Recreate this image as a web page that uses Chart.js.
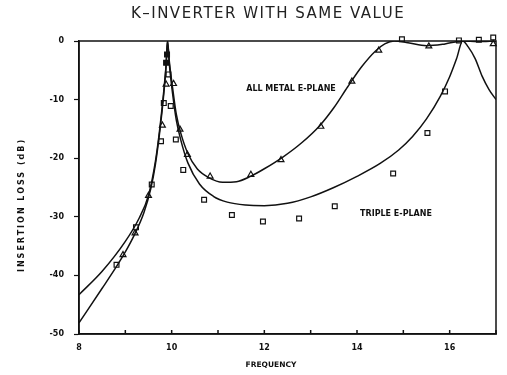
<!DOCTYPE html>
<html lang="en">
<head>
  <meta charset="UTF-8">
  <title>K-Inverter With Same Value</title>
  <style>
    body { margin: 0; background: #fff; }
  </style>
</head>
<body>
  <canvas id="chart" width="507" height="375"></canvas>

  <script src="https://cdn.jsdelivr.net/npm/chart.js@4.4.1/dist/chart.umd.min.js"></script>
  <script>
    // computed curves
    const metalFreq = [8, 8.5, 9, 9.3, 9.5, 9.65, 9.75, 9.83, 9.88, 9.91, 9.95, 10.02, 10.1, 10.2, 10.35, 10.55, 10.8, 11.1, 11.4, 11.7, 12.0, 12.4, 12.8, 13.2, 13.5, 13.8, 14.1, 14.4, 14.6, 14.8, 15.1, 15.5, 15.9, 16.28, 16.6, 17];
    const metalLoss = [-43.3, -39.3, -34.2, -30.2, -26.3, -20.5, -14.5, -8.5, -4, 0, -3.5, -8, -12.5, -15.8, -19.2, -21.8, -23.3, -24.1, -24, -23.1, -21.8, -19.8, -17.4, -14.4, -11.4, -7.8, -4.4, -1.7, -0.5, 0, -0.3, -0.8, -0.5, 0, -0.1, 0];

    const tripleFreq = [8, 8.5, 8.8, 9.0, 9.2, 9.4, 9.55, 9.65, 9.75, 9.83, 9.88, 9.91, 9.95, 10.02, 10.1, 10.2, 10.35, 10.6, 10.9, 11.2, 11.6, 12.0, 12.5, 13.0, 13.5, 14.0, 14.5, 14.9, 15.2, 15.5, 15.8, 16.0, 16.15, 16.28, 16.4, 16.55, 16.7, 16.85, 17];
    const tripleLoss = [-48.1, -42.2, -38.6, -36.0, -33.0, -29.3, -25.2, -21, -15, -9, -4.2, 0, -4, -9, -13.5, -17, -20.8, -24.4, -26.5, -27.5, -28, -28.1, -27.7, -26.6, -25, -23.1, -20.9, -18.6, -16.3, -13.3, -9.4, -6.1, -3.0, 0, -1.0, -3.0, -6.0, -8.3, -10];

    // measured points
    const metalPtFreq = [8.95, 9.21, 9.5, 9.8, 9.88, 10.04, 10.18, 10.34, 10.83, 11.71, 12.36, 13.22, 13.89, 14.47, 15.55, 16.94];
    const metalPtLoss = [-36.5, -32.8, -26.4, -14.4, -7.4, -7.3, -15.1, -19.4, -23.1, -22.8, -20.3, -14.6, -6.9, -1.6, -0.9, -0.5];

    const triplePtFreq = [8.81, 9.23, 9.57, 9.77, 9.83, 9.93, 9.98, 10.09, 10.25, 10.7, 11.3, 11.97, 12.75, 13.52, 14.78, 14.97, 15.52, 15.9, 16.2, 16.63, 16.94];
    const triplePtLoss = [-38.2, -31.8, -24.5, -17.1, -10.6, -5.7, -11.1, -16.8, -22.0, -27.1, -29.7, -30.8, -30.3, -28.2, -22.6, 0.3, -15.7, -8.6, 0.1, 0.2, 0.6];
    const tripleFilledFreq = [9.88, 9.9];
    const tripleFilledLoss = [-3.7, -2.3];

    const xLabels = ['8', '10', '12', '14', '16'];
    const yLabels = ['0', '-10', '-20', '-30', '-40', '-50'];

    const ink = '#111';
    const labelFont = { family: 'DejaVu Sans', size: 8, weight: 'bold' };

    function pts(xs, ys) {
      return xs.map((x, i) => ({ x: x, y: ys[i] }));
    }

    const frame = {
      id: 'frame',
      afterDraw(chart) {
        const ctx = chart.ctx;
        const a = chart.chartArea;
        const x = chart.scales.x;
        ctx.save();
        ctx.strokeStyle = ink;
        ctx.lineWidth = 1.5;
        ctx.strokeRect(a.left, a.top, a.right - a.left, a.bottom - a.top);
        ctx.beginPath();
        x.ticks.forEach(t => {
          const px = x.getPixelForValue(t.value);
          ctx.moveTo(px, a.bottom);
          ctx.lineTo(px, a.bottom - 4);
        });
        ctx.stroke();

        ctx.textAlign = 'center';
        ctx.textBaseline = 'middle';
        ctx.font = '15px "DejaVu Sans"';
        ctx.fillStyle = '#222';
        ctx.letterSpacing = '1.5px';
        ctx.fillText('K\u2013INVERTER WITH SAME VALUE', 268, 14);

        ctx.fillStyle = ink;
        ctx.letterSpacing = '0px';
        ctx.font = 'bold 8px "DejaVu Sans"';
        ctx.fillText('ALL METAL E-PLANE', 291, 89);
        ctx.fillText('TRIPLE E-PLANE', 396, 214);
        ctx.font = 'bold 7.5px "DejaVu Sans"';
        ctx.fillText('FREQUENCY', 271, 365);

        ctx.font = 'bold 8px "DejaVu Sans"';
        ctx.letterSpacing = '2px';
        ctx.translate(22, 205);
        ctx.rotate(-Math.PI / 2);
        ctx.fillText('INSERTION LOSS (dB)', 0, 0);
        ctx.restore();
      }
    };

    const markerSet = (label, data, style, fill) => ({
      label: label,
      data: data,
      showLine: false,
      pointStyle: style,
      pointRadius: 3.4,
      pointBorderWidth: 1.2,
      pointBorderColor: ink,
      pointBackgroundColor: fill,
      clip: false
    });

    new Chart(document.getElementById('chart'), {
      type: 'line',
      data: {
        datasets: [
          {
            label: 'All metal E-plane',
            data: pts(metalFreq, metalLoss),
            borderColor: ink,
            borderWidth: 1.5,
            pointRadius: 0,
            cubicInterpolationMode: 'monotone'
          },
          {
            label: 'Triple E-plane',
            data: pts(tripleFreq, tripleLoss),
            borderColor: ink,
            borderWidth: 1.5,
            pointRadius: 0,
            cubicInterpolationMode: 'monotone'
          },
          markerSet('All metal measured', pts(metalPtFreq, metalPtLoss), 'triangle', '#fff'),
          markerSet('Triple measured', pts(triplePtFreq, triplePtLoss), 'rect', '#fff'),
          markerSet('Triple measured (peak)', pts(tripleFilledFreq, tripleFilledLoss), 'rect', ink)
        ]
      },
      options: {
        responsive: false,
        animation: false,
        layout: { padding: { top: 41, right: 11, left: 0, bottom: 0 } },
        plugins: {
          legend: { display: false },
          tooltip: { enabled: false }
        },
        scales: {
          x: {
            type: 'linear',
            min: 8,
            max: 17,
            afterFit: s => { s.height = 41; },
            ticks: {
              stepSize: 1,
              color: ink,
              font: labelFont,
              padding: 9,
              maxRotation: 0,
              callback: v => xLabels.includes(String(v)) ? String(v) : ''
            },
            grid: { drawOnChartArea: false, drawTicks: false },
            border: { color: ink, width: 1.5 }
          },
          y: {
            min: -50,
            max: 0,
            afterFit: s => { s.width = 79; },
            ticks: {
              stepSize: 10,
              color: ink,
              font: labelFont,
              padding: 10,
              callback: v => yLabels.includes(String(v)) ? String(v) : ''
            },
            grid: { drawOnChartArea: false, tickLength: 5, tickColor: ink, tickWidth: 1.2 },
            border: { color: ink, width: 1.5 }
          }
        }
      },
      plugins: [frame]
    });
  </script>
</body>
</html>
